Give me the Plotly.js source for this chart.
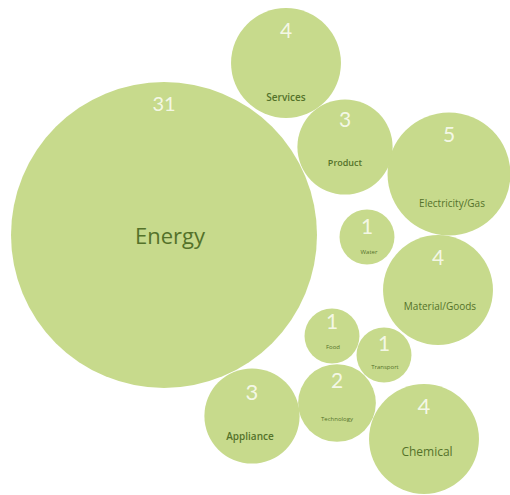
<!DOCTYPE html>
<html>
<head>
<meta charset="utf-8">
<script src="https://cdn.plot.ly/plotly-3.0.1.min.js"></script>
<style>
  html, body { margin: 0; padding: 0; background: #ffffff; }
  #chart { width: 510px; height: 495px; }
</style>
</head>
<body>
<div id="chart"></div>
<script>
// ---- data ----
var categories = ["Energy", "Services", "Product", "Electricity/Gas", "Water", "Material/Goods", "Food", "Transport", "Technology", "Appliance", "Chemical"];
var values = [31, 4, 3, 5, 1, 4, 1, 1, 2, 3, 4];

// ---- layout positions (pixel coordinates of the packed bubbles) ----
var posX = [164, 286, 345, 449, 367, 438, 332, 384, 337, 252, 424];
var posY = [235, 63, 147, 174, 237, 290, 336, 355, 403, 416, 439];
var numY = [106, 33, 122, 137, 229, 260, 324, 346, 383, 394, 408];
var labelX = [170, 286, 345, 452, 369, 440, 333, 385, 337, 250, 427];
var labelY = [238, 98, 164, 204, 252, 307, 347, 367, 419, 437, 453];
var labelSize = [22, 10, 9, 10, 6, 10, 6, 6, 6, 10, 12];
var labelWeight = [500, 600, 600, 500, 400, 500, 400, 400, 400, 600, 500];
var numSize = [20, 21, 21, 21, 21, 21, 21, 21, 21, 22, 22];

var maxDiameter = 306;
var sizeref = 2 * Math.max.apply(null, values) / (maxDiameter * maxDiameter);

var bubbles = {
  type: 'scatter',
  mode: 'markers',
  x: posX,
  y: posY,
  text: categories,
  hoverinfo: 'text',
  marker: {
    size: values,
    sizemode: 'area',
    sizeref: sizeref,
    color: '#c7da8c',
    line: { width: 0 },
    opacity: 1
  },
  showlegend: false
};

var numbers = {
  type: 'scatter',
  mode: 'text',
  x: posX,
  y: numY,
  text: values.map(String),
  textposition: 'middle center',
  textfont: { family: 'Lato, "Open Sans", sans-serif', size: numSize, weight: 400, color: 'rgba(250,252,242,0.9)' },
  hoverinfo: 'skip',
  showlegend: false
};

var labels = {
  type: 'scatter',
  mode: 'text',
  x: labelX,
  y: labelY,
  text: categories,
  textposition: 'middle center',
  textfont: { family: '"Open Sans", "DejaVu Sans", sans-serif', size: labelSize, weight: labelWeight, color: '#54722a' },
  hoverinfo: 'skip',
  showlegend: false
};

var layout = {
  width: 510,
  height: 495,
  margin: { l: 0, r: 0, t: 0, b: 0, pad: 0 },
  paper_bgcolor: '#ffffff',
  plot_bgcolor: '#ffffff',
  xaxis: { range: [0, 510], visible: false, fixedrange: true },
  yaxis: { range: [495, 0], visible: false, fixedrange: true },
  showlegend: false
};

Plotly.newPlot('chart', [bubbles, numbers, labels], layout, { displayModeBar: false, staticPlot: true });
</script>
</body>
</html>
